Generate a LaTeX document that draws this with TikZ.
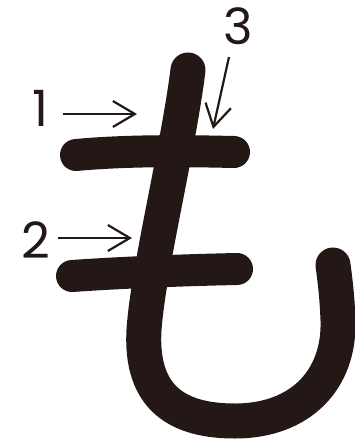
\documentclass[tikz,border=0pt]{standalone}
\usepackage{fontspec}
\setmainfont{Poppins}
\usetikzlibrary{arrows.meta}
\definecolor{ink}{HTML}{231815}

\begin{document}
\begin{tikzpicture}[
    x=1pt, y=-1pt,
    stroke/.style={draw=ink, line width=32pt, line cap=round},
    num/.style={text=ink, font=\fontsize{50}{50}\selectfont, inner sep=0pt},
    arrow/.style={-{Straight Barb[length=22pt,width=26pt]}, draw=ink, line width=2.2pt}
]
    \useasboundingbox (0,0) rectangle (355,445);

    % strokes of the character
    \draw[stroke] (76,155) .. controls (130,150) and (190,151) .. (234,152);
    \draw[stroke] (72,276) .. controls (130,272) and (190,270) .. (237,269);
    \draw[stroke, line width=35pt] (188,70) .. controls (178,150) and (148,270) .. (144,330)
        .. controls (140,400) and (180,421) .. (235,421)
        .. controls (300,421) and (340,380) .. (338,320)
        .. controls (337,295) and (335,280) .. (333,265);

    % stroke order labels
    \node[num] (n1) at (40,108) {1};
    \node[num] (n2) at (36,240) {2};
    \node[num] (n3) at (238,26) {3};

    \coordinate (a1s) at (63,114);
    \coordinate (a1e) at (137,114);
    \coordinate (a2s) at (58,238);
    \coordinate (a2e) at (132,238);
    \coordinate (a3s) at (229,57);
    \coordinate (a3e) at (213,129);

    \draw[arrow] (a1s) -- (a1e);
    \draw[arrow] (a2s) -- (a2e);
    \draw[arrow] (a3s) -- (a3e);
\end{tikzpicture}
\end{document}
